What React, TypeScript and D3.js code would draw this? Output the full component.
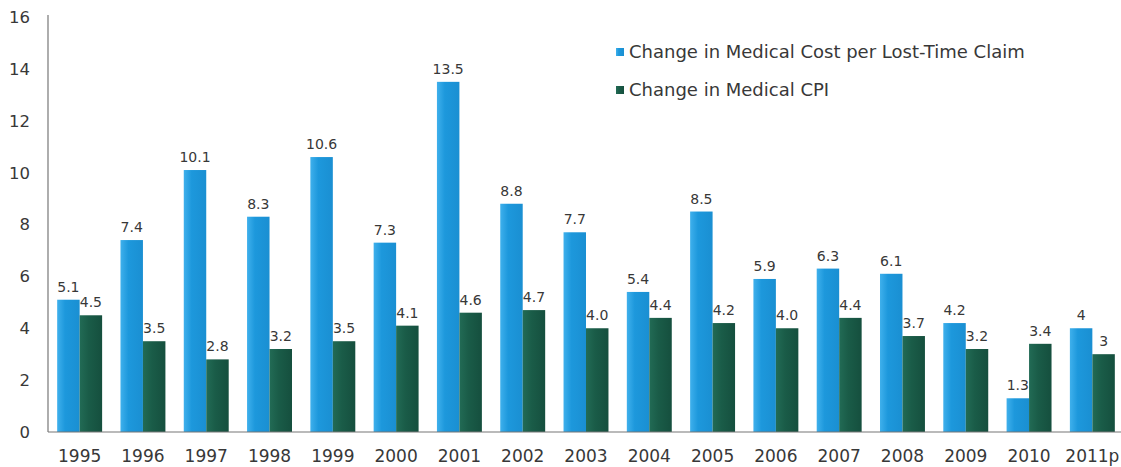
import React from "react";
import * as d3 from "d3";

const categories = ["1995","1996","1997","1998","1999","2000","2001","2002","2003","2004","2005","2006","2007","2008","2009","2010","2011p"];
const costValues = [5.1, 7.4, 10.1, 8.3, 10.6, 7.3, 13.5, 8.8, 7.7, 5.4, 8.5, 5.9, 6.3, 6.1, 4.2, 1.3, 4];
const costLabels = ["5.1","7.4","10.1","8.3","10.6","7.3","13.5","8.8","7.7","5.4","8.5","5.9","6.3","6.1","4.2","1.3","4"];
const cpiValues = [4.5, 3.5, 2.8, 3.2, 3.5, 4.1, 4.6, 4.7, 4.0, 4.4, 4.2, 4.0, 4.4, 3.7, 3.2, 3.4, 3];
const cpiLabels = ["4.5","3.5","2.8","3.2","3.5","4.1","4.6","4.7","4.0","4.4","4.2","4.0","4.4","3.7","3.2","3.4","3"];
const yTicks = [0, 2, 4, 6, 8, 10, 12, 14, 16];
const seriesNames = ["Change in Medical Cost per Lost-Time Claim", "Change in Medical CPI"];

const W = 1121, H = 467;
const left = 48, right = 1124, top = 17, bottom = 432;
const font = "'DejaVu Sans', Arial, sans-serif";
const textColor = "#383838";

export default function App() {
  const x = d3.scaleBand<string>().domain(categories).range([left, right]).paddingInner(0.29).paddingOuter(0.145);
  const inner = d3.scaleBand<string>().domain(["cost", "cpi"]).range([0, x.bandwidth()]);
  const y = d3.scaleLinear().domain([0, 16]).range([bottom, top]);

  return (
    <svg width={W} height={H} style={{ position: "absolute", left: 0, top: 0, background: "#fff" }} fontFamily={font}>
      <defs>
        <linearGradient id="gBlue" x1="0" x2="1" y1="0" y2="0">
          <stop offset="0" stopColor="#3fb0ec" />
          <stop offset="0.35" stopColor="#1d98dc" />
          <stop offset="1" stopColor="#1a8fd2" />
        </linearGradient>
        <linearGradient id="gGreen" x1="0" x2="1" y1="0" y2="0">
          <stop offset="0" stopColor="#226b55" />
          <stop offset="0.4" stopColor="#1a5c48" />
          <stop offset="1" stopColor="#154f3e" />
        </linearGradient>
      </defs>
      {yTicks.map((t) => (
        <text key={t} x={30} y={y(t)} dy="0.36em" textAnchor="end" fontSize={16.5} fill={textColor}>{t}</text>
      ))}
      {categories.map((c, i) => {
        const bx = x(c)!;
        const xb = bx + inner("cost")!;
        const xg = bx + inner("cpi")!;
        const bw = inner.bandwidth();
        return (
          <g key={c}>
            <rect x={xb} y={y(costValues[i])} width={bw} height={bottom - y(costValues[i])} fill="url(#gBlue)" />
            <rect x={xg} y={y(cpiValues[i])} width={bw} height={bottom - y(cpiValues[i])} fill="url(#gGreen)" />
            <text x={xb + bw / 2} y={y(costValues[i]) - 8} textAnchor="middle" fontSize={14} fill={textColor}>{costLabels[i]}</text>
            <text x={xg + bw / 2} y={y(cpiValues[i]) - 8} textAnchor="middle" fontSize={14} fill={textColor}>{cpiLabels[i]}</text>
            <text x={bx + x.bandwidth() / 2} y={462} textAnchor="middle" fontSize={17} fill={textColor}>{c}</text>
          </g>
        );
      })}
      <line x1={left} x2={left} y1={15} y2={bottom} stroke="#777" strokeWidth={1.2} />
      <line x1={left} x2={W} y1={bottom} y2={bottom} stroke="#777" strokeWidth={1.2} />
      {seriesNames.map((s, i) => (
        <g key={s} transform={`translate(616, ${52 + i * 38})`}>
          <rect x={0} y={-4} width={8} height={8} fill={i === 0 ? "url(#gBlue)" : "url(#gGreen)"} />
          <text x={13} y={0} dy="0.36em" fontSize={18} fill={textColor}>{s}</text>
        </g>
      ))}
    </svg>
  );
}
